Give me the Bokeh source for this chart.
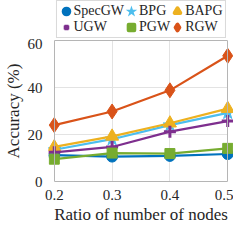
from bokeh.plotting import figure
from bokeh.layouts import column
from bokeh.models import Legend, LegendItem, Range1d, FixedTicker, LinearAxis
from bokeh.embed import file_html
from bokeh.resources import INLINE

# ---- data ----
ratios = [0.2, 0.3, 0.4, 0.5]
specgw = [11.2, 10.6, 10.9, 11.7]
bpg = [13.5, 18.0, 24.0, 29.2]
bapg = [14.7, 19.2, 24.8, 31.0]
ugw = [12.4, 14.7, 21.2, 25.7]
pgw = [9.5, 12.1, 11.9, 14.1]
rgw = [24.0, 29.8, 38.8, 53.5]

x_ticks = [0.2, 0.3, 0.4, 0.5]
y_ticks = [0, 20, 40, 60]

# name, values, colour, marker, plot marker size, legend outline width
series = [
    ("SpecGW", specgw, "#0072BD", "circle", 11, 4),
    ("BPG", bpg, "#4DBEEE", "star", 14, 2),
    ("BAPG", bapg, "#EDB120", "triangle", 13, 4),
    ("UGW", ugw, "#7E2F8E", "cross", 12, 4),
    ("PGW", pgw, "#77AC30", "square", 10, 4),
    ("RGW", rgw, "#D95319", "diamond", 15, 4),
]

FONT = "Liberation Serif"
TXT = "#262626"
GRAY = "#b5b5b5"
GRID = "#e3e3e3"

xmin, xmax = x_ticks[0], x_ticks[-1]
pad = 0.01

# ---- main plot ----
p = figure(width=233, height=188, output_backend="svg", toolbar_location=None,
           x_range=Range1d(xmin - pad, xmax + pad), y_range=Range1d(y_ticks[0], y_ticks[-1]),
           min_border_left=2, min_border_right=0, min_border_top=2, min_border_bottom=2)
p.outline_line_color = None
p.xgrid.grid_line_color = GRID
p.xgrid.ticker = FixedTicker(ticks=x_ticks)
p.ygrid.grid_line_color = None

p.xaxis.ticker = FixedTicker(ticks=x_ticks)
p.xaxis.bounds = (xmin, xmax)
p.yaxis.ticker = FixedTicker(ticks=y_ticks)
p.xaxis.axis_label = "Ratio of number of nodes"
p.yaxis.axis_label = "Accuracy (%)"
for ax in (p.xaxis[0], p.yaxis[0]):
    ax.axis_label_text_font = FONT
    ax.axis_label_text_font_style = "normal"
    ax.axis_label_text_font_size = "17px"
    ax.axis_label_text_color = TXT
    ax.major_label_text_font = FONT
    ax.major_label_text_font_size = "15px"
    ax.major_label_text_color = TXT
    ax.axis_line_color = GRAY
    ax.major_tick_line_color = None
    ax.minor_tick_line_color = None
    ax.major_label_standoff = 2
    ax.axis_label_standoff = 2
p.yaxis.axis_line_color = None
p.yaxis.major_label_standoff = 0

# horizontal grid lines limited to the box
p.segment(x0=[xmin] * len(y_ticks), x1=[xmax] * len(y_ticks), y0=y_ticks, y1=y_ticks,
          line_color=GRID, line_width=1, level="underlay")

# box edges: top, left and right
top_ax = LinearAxis(ticker=FixedTicker(ticks=[]), bounds=(xmin, xmax), axis_line_color=GRAY,
                    major_tick_line_color=None, minor_tick_line_color=None)
p.add_layout(top_ax, "above")
left_line = LinearAxis(ticker=FixedTicker(ticks=[]), fixed_location=xmin, axis_line_color=GRAY,
                       major_tick_line_color=None, minor_tick_line_color=None)
p.add_layout(left_line, "right")
right_ax = LinearAxis(ticker=FixedTicker(ticks=[]), fixed_location=xmax, axis_line_color=GRAY,
                      major_tick_line_color=None, minor_tick_line_color=None)
p.add_layout(right_ax, "right")

# ---- legend figure ----
lf = figure(width=233, height=38, output_backend="svg", toolbar_location=None,
            x_range=Range1d(0, 1), y_range=Range1d(0, 1),
            x_axis_type=None, y_axis_type=None,
            min_border_left=30, min_border_right=0, min_border_top=0, min_border_bottom=0)
lf.outline_line_color = None

items = []
for name, vals, color, marker, msize, lw in series:
    p.line(ratios, vals, color=color, line_width=2.2)
    if marker == "cross":
        p.scatter(ratios, vals, marker=marker, size=msize, color=color, line_width=3)
    else:
        p.scatter(ratios, vals, marker=marker, size=msize, color=color)
    lr = lf.scatter([0.5], [-5.0], marker=marker, size=1, color=color, line_width=lw,
                    line_join="miter" if marker == "star" else "round")
    items.append(LegendItem(label=name, renderers=[lr]))

legend = Legend(items=items, orientation="horizontal", ncols=3, location="center",
                glyph_width=14, glyph_height=16, label_standoff=1, spacing=0,
                padding=2, margin=0, label_text_font=FONT, label_text_font_size="14px",
                label_text_color=TXT, label_height=14,
                border_line_color=GRAY, background_fill_alpha=1)
lf.add_layout(legend, "center")

layout = column(lf, p, spacing=0)
open("out.html", "w").write(file_html(layout, INLINE))
